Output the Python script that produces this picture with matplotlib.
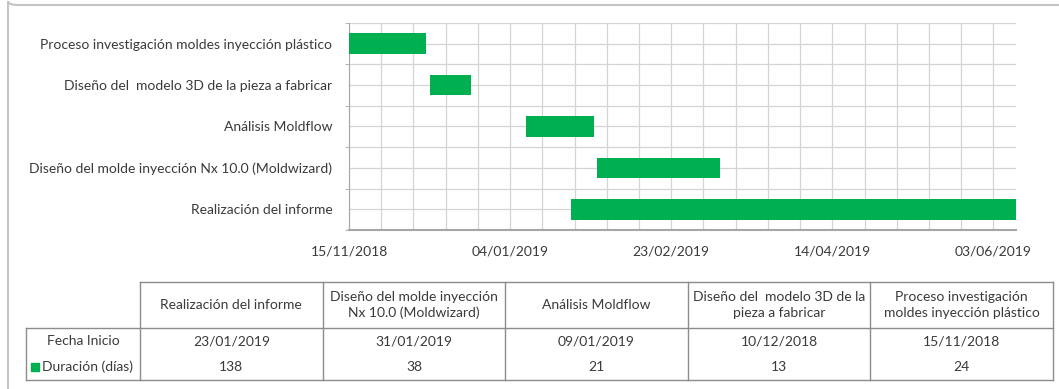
import datetime as dt
import matplotlib
matplotlib.use("Agg")
import matplotlib.pyplot as plt
import matplotlib.dates as mdates
from matplotlib.patches import FancyBboxPatch, Rectangle

plt.rcParams['font.family'] = ['Lato', 'DejaVu Sans']

# tareas del proyecto (de arriba a abajo en el diagrama)
tareas = ["Proceso investigación moldes inyección plástico",
          "Diseño del  modelo 3D de la pieza a fabricar",
          "Análisis Moldflow",
          "Diseño del molde inyección Nx 10.0 (Moldwizard)",
          "Realización del informe"]
inicio = ["15/11/2018", "10/12/2018", "09/01/2019", "31/01/2019", "23/01/2019"]
duracion = [24, 13, 21, 38, 138]
# cabeceras de la tabla (orden inverso, con salto de línea)
cabeceras = ["Proceso investigación\nmoldes inyección plástico",
             "Diseño del  modelo 3D de la\npieza a fabricar",
             "Análisis Moldflow",
             "Diseño del molde inyección\nNx 10.0 (Moldwizard)",
             "Realización del informe"]

VERDE = '#00B050'
TEXTO = '#3a3a3a'
FS = 10
W, H = 1059, 389

fechas = [dt.datetime.strptime(f, "%d/%m/%Y") for f in inicio]
x0 = mdates.date2num(fechas)

fig = plt.figure(figsize=(W / 100, H / 100), dpi=100)

# marco exterior del gráfico
marco = FancyBboxPatch((8 / W, 1 - 5 / H), 1.2, -1.2, boxstyle="round,pad=0,rounding_size=0.01",
                       transform=fig.transFigure, facecolor='none', edgecolor='#c4c4c4', lw=1.5)
fig.add_artist(marco)

ax = fig.add_axes([349 / W, 1 - 230 / H, 667 / W, 207 / H])
n = len(tareas)
ys = list(range(n))
ax.barh(ys, duracion, left=x0, height=0.5, color=VERDE, zorder=3)

t0 = mdates.date2num(dt.datetime(2018, 11, 15))
ax.set_xlim(t0, t0 + 207)
ax.set_ylim(n - 0.5, -0.5)
ax.set_xticks([t0 + 50 * k for k in range(5)])
ax.set_xticks([t0 + 10 * k for k in range(21)], minor=True)
ax.xaxis.set_major_formatter(mdates.DateFormatter('%d/%m/%Y'))
ax.set_yticks(ys)
ax.set_yticklabels(tareas)
ax.set_yticks([k - 0.5 for k in range(n + 1)], minor=True)

ax.grid(True, which='both', axis='both', color='#d4d4d4', lw=0.9, zorder=0)
ax.set_axisbelow(True)
ax.tick_params(axis='x', which='both', length=0, pad=11, labelsize=FS, labelcolor=TEXTO)
ax.tick_params(axis='y', which='major', length=0, pad=12, labelsize=FS, labelcolor=TEXTO)
ax.tick_params(axis='y', which='minor', length=3, color='#a6a6a6')
for s in ['top', 'right']:
    ax.spines[s].set_visible(False)
ax.spines['left'].set_color('#a6a6a6')
ax.spines['bottom'].set_color('#a6a6a6')
ax.spines['bottom'].set_linewidth(1.5)

# tabla de datos
tx = fig.add_axes([0, 0, 1, 1])
tx.set_xlim(0, W)
tx.set_ylim(H, 0)
tx.axis('off')
tx.patch.set_alpha(0)

izq, col0, der = 26, 140, 1053
y_top, y_mid, y_bot = 282, 328, 380
ancho = (der - col0) / n
lc = '#8c8c8c'
kw = dict(color=lc, lw=1.0)
tx.plot([col0, der], [y_top, y_top], **kw)
tx.plot([izq, der], [y_mid, y_mid], **kw)
tx.plot([izq, der], [y_bot, y_bot], **kw)
tx.plot([izq, izq], [y_mid, y_bot], **kw)
for k in range(n + 1):
    xc = col0 + k * ancho
    tx.plot([xc, xc], [y_top, y_bot], **kw)

f1 = y_mid + (y_bot - y_mid) / 4
f2 = y_mid + 3 * (y_bot - y_mid) / 4
tx.text((izq + col0) / 2, f1, "Fecha Inicio", ha='center', va='center', fontsize=FS, color=TEXTO)
tx.text(42, f2, "Duración (días)", ha='left', va='center', fontsize=FS, color=TEXTO)
tx.add_patch(Rectangle((31, f2 - 4), 8, 8, color=VERDE))

orden = list(range(n))[::-1]
for k, i in enumerate(orden):
    xc = col0 + (k + 0.5) * ancho
    tx.text(xc, (y_top + y_mid) / 2, cabeceras[n - 1 - k], ha='center', va='center',
            fontsize=FS, color=TEXTO, linespacing=1.35)
    tx.text(xc, f1, inicio[i], ha='center', va='center', fontsize=FS, color=TEXTO)
    tx.text(xc, f2, str(duracion[i]), ha='center', va='center', fontsize=FS, color=TEXTO)

fig.savefig("out.png", dpi=100)
